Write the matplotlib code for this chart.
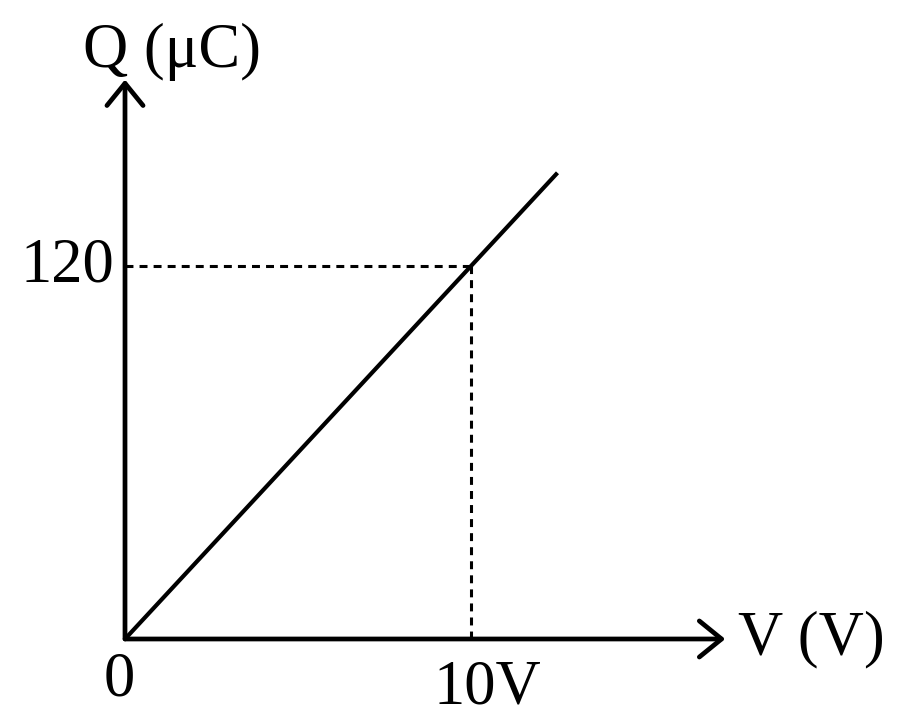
import matplotlib
matplotlib.use("Agg")
import matplotlib.pyplot as plt

# Q-V graph of a capacitor: straight line through origin
v_vals = [0, 12.5]
q_vals = [0, 150]

# marked point
v_mark = 10
q_mark = 120

# axis extents (arrow tips)
v_axis_end = 17.35
q_axis_end = 180

x_label = "V (V)"
y_label = "Q (\u03bcC)"
x_tick_label = "10V"
y_tick_label = "120"
origin_label = "0"

plt.rcParams['font.family'] = ['Liberation Serif', 'DejaVu Serif']

fig = plt.figure(figsize=(9, 7.23), dpi=100)
ax = fig.add_axes([0, 0, 1, 1])
ax.set_xlim(-3.613, 22.40)
ax.set_ylim(-27.03, 205.6)
ax.axis('off')

# axes with open arrowheads
arrow = dict(arrowstyle='->,head_length=16,head_width=13', lw=3.4,
             color='black', shrinkA=0, shrinkB=0, mutation_scale=1)
ax.annotate('', xy=(v_axis_end, 0), xytext=(0, 0), arrowprops=arrow)
ax.annotate('', xy=(0, q_axis_end), xytext=(0, 0), arrowprops=arrow)

# the Q-V line
ax.plot(v_vals, q_vals, color='black', lw=3.0, solid_capstyle='butt')

# dotted guides to the marked point
ax.plot([0, v_mark], [q_mark, q_mark], color='black', lw=2.2,
        linestyle=(0, (2.6, 2.0)))
ax.plot([v_mark, v_mark], [0, q_mark], color='black', lw=2.2,
        linestyle=(0, (2.6, 2.0)))

fs = 45
ax.annotate(y_tick_label, xy=(0, q_mark), xytext=(-8, 0),
            textcoords='offset points', ha='right', va='center', fontsize=fs)
ax.annotate(x_tick_label, xy=(v_mark, 0), xytext=(11.5, -15),
            textcoords='offset points', ha='center', va='top', fontsize=fs)
ax.annotate(origin_label, xy=(0, 0), xytext=(-4, -9),
            textcoords='offset points', ha='center', va='top', fontsize=fs)
ax.annotate(x_label, xy=(v_axis_end, 0), xytext=(9, 0),
            textcoords='offset points', ha='left', va='center', fontsize=fs)
ax.annotate(y_label, xy=(0, q_axis_end), xytext=(34, 9),
            textcoords='offset points', ha='center', va='baseline', fontsize=fs)

fig.savefig("out.png", dpi=100, facecolor='white')
